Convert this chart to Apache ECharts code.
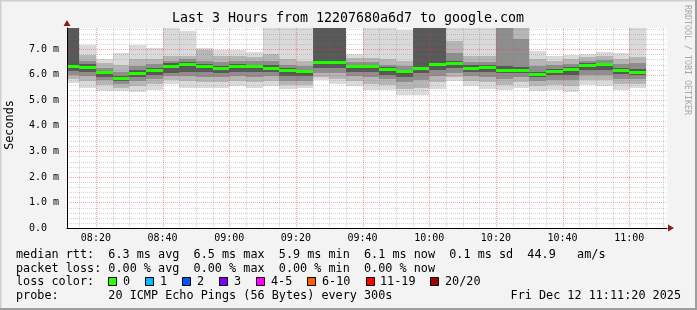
<!DOCTYPE html>
<html><head><meta charset="utf-8">
<script src="https://cdn.jsdelivr.net/npm/echarts@6/dist/echarts.min.js"></script>
<style>html,body{margin:0;padding:0;background:#f3f3f3;overflow:hidden}#c{width:697px;height:310px}</style>
</head><body><div id="c"></div>
<script>
// ---- data ----
const binStart = ['08:10','08:15','08:20','08:25','08:30','08:35','08:40','08:45','08:50','08:55',
  '09:00','09:05','09:10','09:15','09:20','09:25','09:30','09:35','09:40','09:45',
  '09:50','09:55','10:00','10:05','10:10','10:15','10:20','10:25','10:30','10:35',
  '10:40','10:45','10:50','10:55','11:00'];
const median = [6.32,6.27,6.07,5.87,6.05,6.18,6.34,6.41,6.32,6.26,
  6.34,6.31,6.26,6.15,6.11,6.49,6.48,6.34,6.31,6.19,
  6.11,6.26,6.39,6.43,6.26,6.30,6.17,6.15,6.02,6.11,
  6.19,6.36,6.39,6.15,6.07];
// smoke layers, outermost (L1) to innermost (L4): low and high bounds (ms)
const l1Low  = [5.68,5.50,5.38,5.35,5.33,5.42,5.63,5.50,5.48,5.50, 5.55,5.50,5.55,5.45,5.50,5.78,5.62,5.55,5.40,5.40, 5.20,5.22,5.45,5.76,5.55,5.45,5.40,5.50,5.37,5.42, 5.32,5.60,5.57,5.42,5.50];
const l1High = [7.90,7.18,6.61,6.85,7.18,7.03,7.90,7.70,7.03,6.95, 6.96,6.90,7.90,7.90,7.90,7.90,7.90,6.83,7.90,7.90, 7.74,7.90,7.90,7.90,7.90,7.90,7.90,7.90,6.93,6.72, 6.78,6.82,6.88,6.85,7.90];
const l2Low  = [5.85,5.75,5.60,5.50,5.55,5.65,5.80,5.75,5.70,5.70, 5.75,5.72,5.75,5.60,5.60,5.90,5.85,5.75,5.65,5.60, 5.45,5.50,5.70,5.90,5.75,5.70,5.60,5.70,5.55,5.60, 5.55,5.80,5.80,5.65,5.65];
const l2High = [7.90,6.77,6.45,6.37,6.60,6.62,6.75,6.75,6.98,6.75, 6.75,6.70,6.80,6.60,6.55,7.90,7.90,6.65,6.65,6.60, 6.55,7.90,7.90,7.33,6.75,6.75,7.90,7.90,6.60,6.55, 6.60,6.68,6.72,6.60,6.70];
const l3Low  = [6.00,5.95,5.80,5.62,5.75,5.85,5.95,5.95,5.90,5.90, 5.95,5.92,5.95,5.75,5.75,6.05,6.05,5.95,5.90,5.85, 5.70,5.80,5.95,6.05,5.95,5.90,5.85,5.90,5.75,5.80, 5.80,6.00,6.00,5.85,5.85];
const l3High = [7.90,6.55,6.25,6.10,6.35,6.42,6.55,6.60,6.55,6.50, 6.55,6.52,6.55,6.40,6.35,7.90,7.90,6.50,6.50,6.40, 6.35,7.90,7.90,6.85,6.50,6.50,7.90,7.38,6.35,6.40, 6.42,6.55,6.58,6.42,6.45];
const l4Low  = [6.15,6.12,5.92,5.75,5.90,6.00,6.05,6.10,6.10,6.05, 6.10,6.10,6.10,5.95,5.95,6.25,6.25,6.10,6.10,6.00, 5.90,6.05,6.20,6.25,6.10,6.10,6.05,6.05,5.92,5.98, 6.00,6.20,6.20,6.02,6.00];
const l4High = [7.90,6.42,6.15,5.96,6.20,6.28,6.45,6.50,6.42,6.35, 6.42,6.40,6.38,6.25,6.20,7.90,7.90,6.40,6.40,6.30, 6.20,7.90,7.90,6.55,6.38,6.40,6.35,6.30,6.12,6.22, 6.30,6.45,6.47,6.28,6.22];
const xTickLabels = ['08:20','08:40','09:00','09:20','09:40','10:00','10:20','10:40','11:00'];
const yTickLabels = ['0.0  ','1.0 m','2.0 m','3.0 m','4.0 m','5.0 m','6.0 m','7.0 m'];
const lossLabels = ['0','1','2','3','4-5','6-10','11-19','20/20'];
const viewStart = '08:11:20', viewEnd = '11:11:20';
const binMinutes = 5;
const yMax = 7.83;

// ---- styles ----
const MONO = '"DejaVu Sans Mono", monospace';
const lossColors = ['#26ff00','#00b8ff','#0059ff','#7e00ff','#ff00ff','#ff5e00','#ff0000','#a10000'];
const lossBoxX = [108,145,182,219,256,307,366,430];
const lossTextX = [123,160,197,234,271,322,380,445];
const layerColors = ['#dadada','#b6b6b6','#8e8e8e','#585858'];
const minorGridColor = 'rgba(120,120,120,0.3)';
const majorGridColor = 'rgba(240,60,60,0.45)';

function toMin(s){ const p = s.split(':').map(Number); return p[0]*60 + p[1] + (p[2]||0)/60; }
const xMin = toMin(viewStart), xMax = toMin(viewEnd);
const xTickValues = xTickLabels.map(toMin);

function clipTo(cs, r){
  return echarts.graphic.clipRectByRect(r, {x:cs.x, y:cs.y, width:cs.width, height:cs.height});
}
function layerSeries(lo, hi, color){
  return {
    type:'custom', z:2, silent:true, animation:false,
    encode:{x:[0,1], y:[2,3]},
    data: binStart.map((t,i)=>[toMin(t), toMin(t)+binMinutes, lo[i], hi[i]]),
    renderItem:(params, api)=>{
      const a = api.coord([api.value(0), api.value(3)]);
      const b = api.coord([api.value(1), api.value(2)]);
      const x0 = Math.round(a[0]), x1 = Math.round(b[0]);
      const y0 = Math.round(a[1]), y1 = Math.round(b[1]);
      const r = clipTo(params.coordSys, {x:x0, y:y0, width:x1-x0, height:y1-y0});
      if (!r) return;
      return {type:'rect', shape:r, style:{fill:color}};
    }
  };
}
const medianSeries = {
  type:'custom', z:5, silent:true, animation:false,
  encode:{x:[0,1], y:2},
  data: binStart.map((t,i)=>[toMin(t), toMin(t)+binMinutes, median[i]]),
  renderItem:(params, api)=>{
    const a = api.coord([api.value(0), api.value(2)]);
    const b = api.coord([api.value(1), api.value(2)]);
    const x0 = Math.round(a[0]), x1 = Math.round(b[0]);
    const r = clipTo(params.coordSys, {x:x0, y:Math.round(a[1]-1.5), width:x1-x0, height:3});
    if (!r) return;
    return {type:'rect', shape:r, style:{fill:'#20ff00'}};
  }
};
// grid line positions (ticks)
const xMinorGrid = [], xMajorGrid = [], yMinorGrid = [], yMajorGrid = [];
for (let m = 495; m <= 670; m += 5) ((m % 20 === 0) ? xMajorGrid : xMinorGrid).push(m);
for (let k = 1; k <= 39; k++) ((k % 5 === 0) ? yMajorGrid : yMinorGrid).push(k/5);

// dotted grid lines built from 1px dots
const gridSeries = {
  type:'custom', z:3, silent:true, animation:false,
  encode:{x:0, y:1},
  data:[[xMin, 0]],
  renderItem:(params, api)=>{
    const cs = params.coordSys;
    const children = [];
    const vline = (v, color)=>{
      const x = Math.round(api.coord([v, 0])[0]);
      const pts = [];
      children.push({type:'line', shape:{x1:x+0.5, y1:cs.y, x2:x+0.5, y2:cs.y+cs.height}, style:{stroke:color, lineWidth:1.2, lineDash:[1,1]}});
    };
    const hline = (v, color)=>{
      const y = Math.round(api.coord([xMin, v])[1]);
      children.push({type:'line', shape:{x1:cs.x, y1:y+0.5, x2:cs.x+cs.width, y2:y+0.5}, style:{stroke:color, lineWidth:1, lineDash:[1,1]}});
    };
    xMinorGrid.forEach(v=>vline(v, minorGridColor));
    yMinorGrid.forEach(v=>hline(v, minorGridColor));
    xMajorGrid.forEach(v=>vline(v, majorGridColor));
    yMajorGrid.forEach(v=>hline(v, majorGridColor));
    return {type:'group', children};
  }
};

const graphics = [
  {type:'text', style:{text:'Last 3 Hours from 12207680a6d7 to google.com', x:348, y:19, font:'13.3px '+MONO, fill:'#000', textAlign:'center', textVerticalAlign:'middle'}},
  {type:'text', rotation:Math.PI/2, x:10, y:125, style:{text:'Seconds', x:0, y:0, font:'11.8px '+MONO, fill:'#000', textAlign:'center', textVerticalAlign:'middle'}},
  {type:'text', rotation:-Math.PI/2, x:687.5, y:60, style:{text:'RRDTOOL / TOBI OETIKER', x:0, y:0, font:'8.3px '+MONO, fill:'#a8a8a8', textAlign:'center', textVerticalAlign:'middle'}},
  {type:'polygon', shape:{points:[[63.5,26],[70.5,26],[67,20]]}, style:{fill:'#8b1a1a'}},
  {type:'polygon', shape:{points:[[668,224.5],[668,231.5],[674,228]]}, style:{fill:'#8b1a1a'}},
  {type:'text', style:{text:'median rtt:  6.3 ms avg  6.5 ms max  5.9 ms min  6.1 ms now  0.1 ms sd  44.9   am/s', x:16, y:255, font:'11.8px '+MONO, fill:'#000', textVerticalAlign:'middle'}},
  {type:'text', style:{text:'packet loss: 0.00 % avg  0.00 % max  0.00 % min  0.00 % now', x:16, y:268.5, font:'11.8px '+MONO, fill:'#000', textVerticalAlign:'middle'}},
  {type:'text', style:{text:'loss color:', x:16, y:282, font:'11.8px '+MONO, fill:'#000', textVerticalAlign:'middle'}},
  {type:'text', style:{text:'probe:       20 ICMP Echo Pings (56 Bytes) every 300s', x:16, y:296, font:'11.8px '+MONO, fill:'#000', textVerticalAlign:'middle'}},
  {type:'text', style:{text:'Fri Dec 12 11:11:20 2025', x:681, y:296, font:'11.8px '+MONO, fill:'#000', textAlign:'right', textVerticalAlign:'middle'}},
  {type:'line', shape:{x1:0, y1:0.5, x2:697, y2:0.5}, style:{stroke:'#cfcfcf', lineWidth:2}},
  {type:'line', shape:{x1:0.5, y1:0, x2:0.5, y2:310}, style:{stroke:'#cfcfcf', lineWidth:2}},
  {type:'line', shape:{x1:696, y1:0, x2:696, y2:310}, style:{stroke:'#9e9e9e', lineWidth:2}},
  {type:'line', shape:{x1:0, y1:309, x2:697, y2:309}, style:{stroke:'#9e9e9e', lineWidth:2}}
];
lossLabels.forEach((lab, i)=>{
  graphics.push({type:'rect', shape:{x:lossBoxX[i]+0.5, y:277.5, width:8, height:8}, style:{fill:lossColors[i], stroke:'#000', lineWidth:1}});
  graphics.push({type:'text', style:{text:lab, x:lossTextX[i], y:282, font:'11.8px '+MONO, fill:'#000', textVerticalAlign:'middle'}});
});

const chart = echarts.init(document.getElementById('c'), null, {renderer:'canvas'});
chart.setOption({
  animation:false,
  backgroundColor:'#f3f3f3',
  grid:{left:67, top:28, width:600, height:200, show:true, backgroundColor:'#ffffff', borderWidth:0},
  xAxis:{type:'value', min:xMin, max:xMax, z:6,
    axisLine:{show:true, lineStyle:{color:'#000', width:1}},
    axisTick:{show:false}, splitLine:{show:false},
    axisLabel:{customValues: xTickValues, formatter:(v)=>{
      const i = xTickValues.findIndex(t=>Math.abs(t-v)<1e-6); return i>=0 ? xTickLabels[i] : '';},
      fontFamily:MONO, fontSize:10, color:'#000', margin:5}},
  yAxis:{type:'value', min:0, max:yMax, interval:1, z:6,
    axisLine:{show:true, lineStyle:{color:'#000', width:1}},
    axisTick:{show:false}, splitLine:{show:false},
    axisLabel:{showMaxLabel:false, formatter:(v)=>{
      const i = Math.round(v); return (Math.abs(v-i)<1e-6 && i<yTickLabels.length) ? yTickLabels[i] : '';},
      fontFamily:MONO, fontSize:10, color:'#000', margin:8}},
  series:[
    layerSeries(l1Low, l1High, layerColors[0]),
    layerSeries(l2Low, l2High, layerColors[1]),
    layerSeries(l3Low, l3High, layerColors[2]),
    layerSeries(l4Low, l4High, layerColors[3]),
    gridSeries,
    medianSeries
  ],
  graphic: graphics
});
</script></body></html>
